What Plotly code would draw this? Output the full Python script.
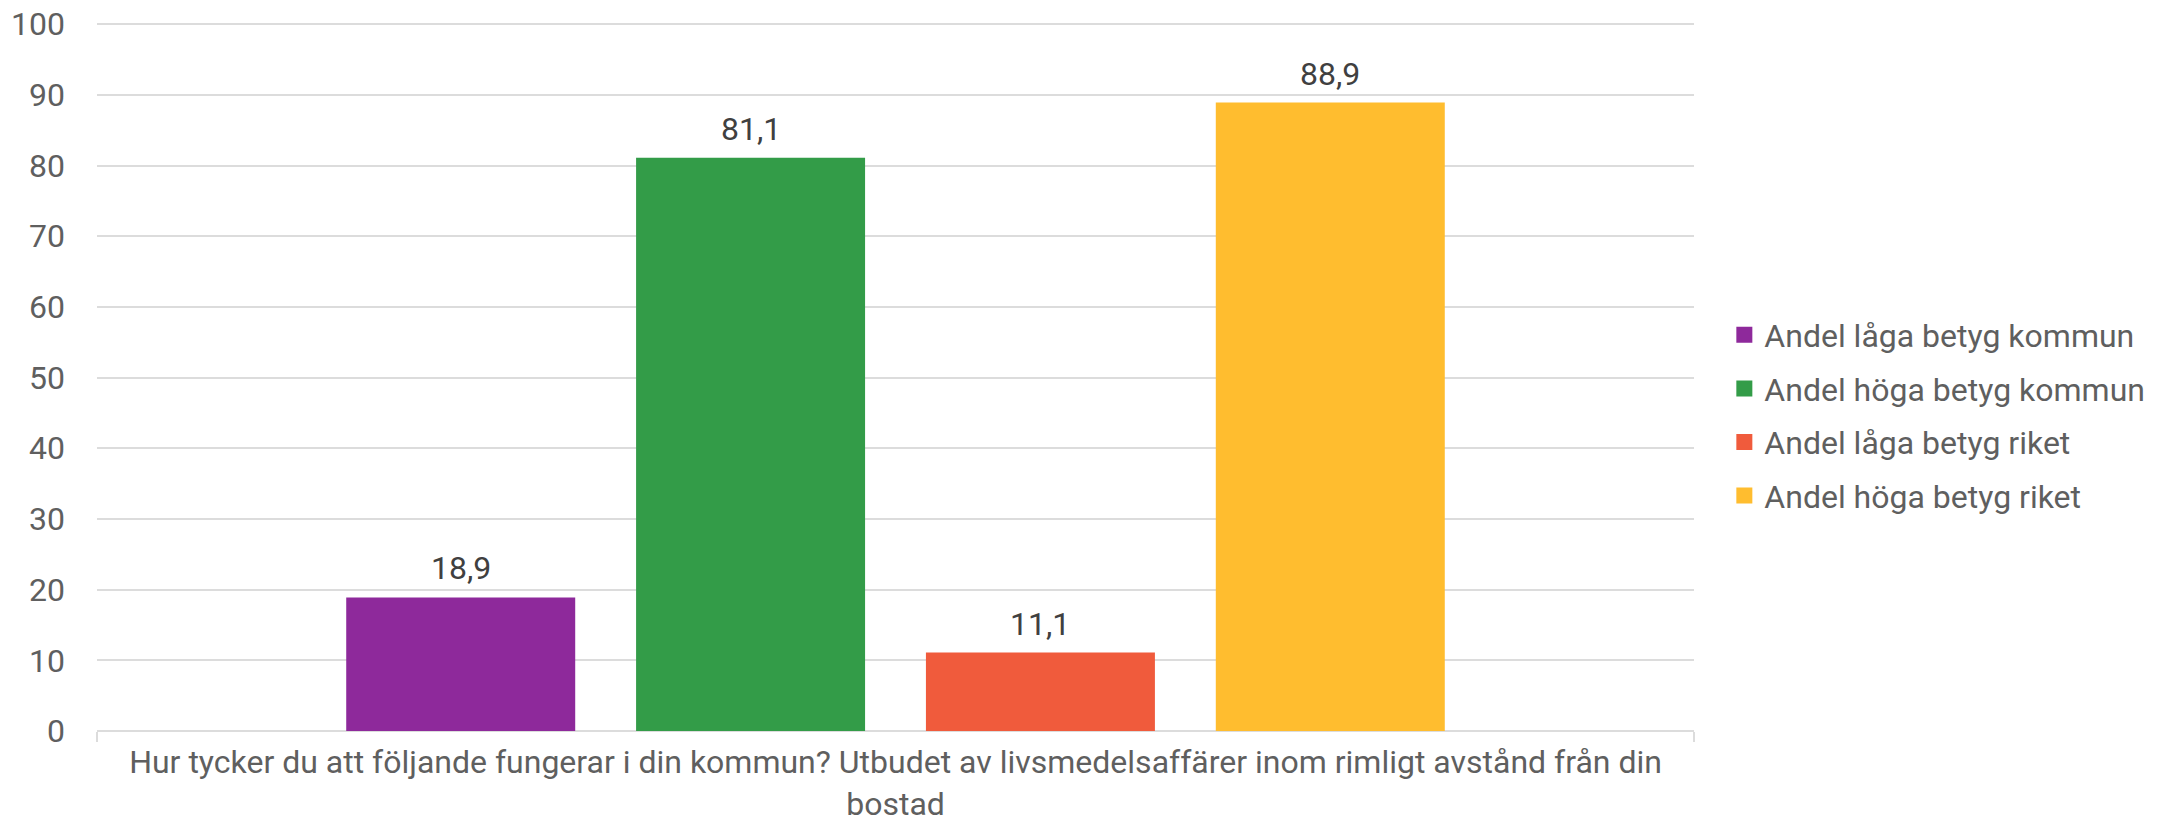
import plotly.graph_objects as go

category = "Hur tycker du att följande fungerar i din kommun? Utbudet av livsmedelsaffärer inom rimligt avstånd från din<br>bostad"
series_names = ["Andel låga betyg kommun", "Andel höga betyg kommun", "Andel låga betyg riket", "Andel höga betyg riket"]
values = [18.9, 81.1, 11.1, 88.9]
colors = ["#8E299B", "#339C48", "#F05B3C", "#FFBD2F"]
y_ticks = [0, 10, 20, 30, 40, 50, 60, 70, 80, 90, 100]

FONT = "Roboto"
FS = 32
BARGAP = 0.274
BARGROUPGAP = 0.21

fig = go.Figure()
for name, v, c in zip(series_names, values, colors):
    fig.add_trace(go.Bar(x=[category], y=[v], name=name, marker=dict(color=c, line=dict(width=0)),
                         showlegend=False, hoverinfo="y"))
# legend proxies (larger squares)
for i, (name, c) in enumerate(zip(series_names, colors)):
    fig.add_trace(go.Scatter(x=[None], y=[None], mode="markers", name=name, legendgroup=f"g{i}",
                             marker=dict(symbol="square", size=16, color=c)))

# value labels
n = len(values)
slot = (1 - BARGAP) / n
for i, v in enumerate(values):
    xc = -0.5 * (1 - BARGAP) + (i + 0.5) * slot
    fig.add_annotation(x=xc, y=v, xref="x", yref="y", text=f"{v:.1f}".replace(".", ","),
                       showarrow=False, yanchor="bottom", yshift=8,
                       font=dict(family=FONT, size=FS, color="#404040"))

fig.update_layout(
    width=2166, height=824,
    margin=dict(l=97, r=472, t=22, b=93, autoexpand=False),
    paper_bgcolor="white", plot_bgcolor="white",
    barmode="group", bargap=BARGAP, bargroupgap=BARGROUPGAP,
    font=dict(family=FONT, size=FS, color="#5f5f5f"),
    legend=dict(x=1.019, xanchor="left", y=0.445, yanchor="middle",
                font=dict(family=FONT, size=FS, color="#5f5f5f"),
                tracegroupgap=9, itemwidth=30),
    separators=", ",
)
fig.update_yaxes(range=[0, 100.3], tickvals=y_ticks, showgrid=True, gridcolor="#dcdcdc", gridwidth=2,
                 zeroline=True, zerolinecolor="#dcdcdc", zerolinewidth=2, showline=False,
                 ticks="", ticklabelstandoff=31, ticklabeloverflow="allow", automargin=False,
                 tickfont=dict(family=FONT, size=FS, color="#5f5f5f"))
fig.update_xaxes(type="category", showline=False, showgrid=False, ticks="outside", tickson="boundaries",
                 ticklen=10, tickwidth=2, tickcolor="#dcdcdc", ticklabelstandoff=9,
                 ticklabeloverflow="allow", automargin=False,
                 tickfont=dict(family=FONT, size=FS, color="#5f5f5f"))

fig.write_html("out.html", config={"displayModeBar": False},
               post_script="document.body.style.margin='0';document.body.style.overflow='hidden';")
